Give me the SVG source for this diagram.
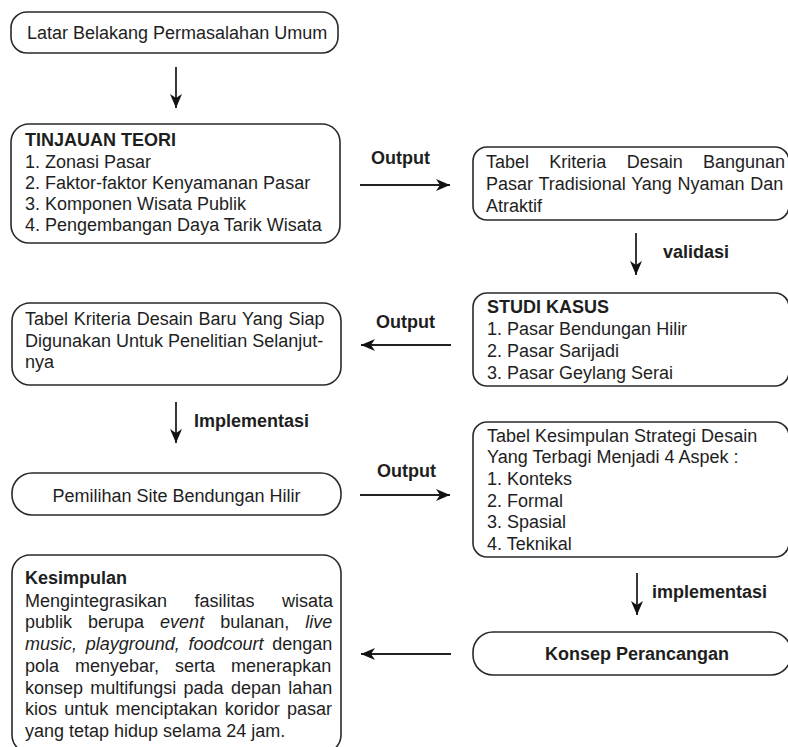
<svg xmlns="http://www.w3.org/2000/svg" width="788" height="747" viewBox="0 0 788 747">
<style>
.box{fill:#fff;stroke:#2a2a2a;stroke-width:1.6}
.t{font-family:"Liberation Sans",Arial,sans-serif;font-size:18px;fill:#1e1e1e}
.b{font-weight:bold}
.i{font-style:italic}
.c{stroke:#222;stroke-width:1.8;fill:none;marker-end:url(#ah)}
</style>
<defs>
<marker id="ah" viewBox="0 0 14 12" refX="14" refY="6" markerWidth="14" markerHeight="12" markerUnits="userSpaceOnUse" orient="auto">
<path d="M0,0 L14,6 L0,12 L4,6 z" fill="#111"/>
</marker>
</defs>
<rect width="788" height="747" fill="#fff"/>
<g id="connectors">
<line class="c" x1="176" y1="67" x2="176" y2="108"/>
<line class="c" x1="360" y1="185" x2="450" y2="185"/>
<line class="c" x1="636" y1="233" x2="636" y2="275"/>
<line class="c" x1="451" y1="345" x2="361" y2="345"/>
<line class="c" x1="176" y1="402" x2="176" y2="443"/>
<line class="c" x1="360" y1="495" x2="450" y2="495"/>
<line class="c" x1="637" y1="573" x2="637" y2="615"/>
<line class="c" x1="451" y1="654" x2="361" y2="654"/>
<text class="t b" x="371" y="164">Output</text>
<text class="t b" x="663" y="258">validasi</text>
<text class="t b" x="376" y="328">Output</text>
<text class="t b" x="194" y="427">Implementasi</text>
<text class="t b" x="377" y="477">Output</text>
<text class="t b" x="652" y="598">implementasi</text>
</g>
<g id="latar">
<rect class="box" x="11" y="12" width="327" height="41" rx="16"/>
<text class="t" x="27" y="38.5">Latar Belakang Permasalahan Umum</text>
</g>
<g id="tinjauan">
<rect class="box" x="11" y="124" width="329" height="119" rx="18"/>
<text class="t b" x="25" y="146">TINJAUAN TEORI</text>
<text class="t" x="25" y="168">1. Zonasi Pasar</text>
<text class="t" x="25" y="189">2. Faktor-faktor Kenyamanan Pasar</text>
<text class="t" x="25" y="210">3. Komponen Wisata Publik</text>
<text class="t" x="25" y="231">4. Pengembangan Daya Tarik Wisata</text>
</g>
<g id="tabel-kriteria">
<rect class="box" x="473" y="147" width="316" height="73" rx="14"/>
<text class="t" x="486" y="168" word-spacing="15.3">Tabel Kriteria Desain Bangunan</text>
<text class="t" x="486" y="190" word-spacing="0.7">Pasar Tradisional Yang Nyaman Dan</text>
<text class="t" x="486" y="212">Atraktif</text>
</g>
<g id="studi-kasus">
<rect class="box" x="473" y="293" width="316" height="93" rx="14"/>
<text class="t b" x="487" y="313">STUDI KASUS</text>
<text class="t" x="487" y="335">1. Pasar Bendungan Hilir</text>
<text class="t" x="487" y="357">2. Pasar Sarijadi</text>
<text class="t" x="487" y="378.5">3. Pasar Geylang Serai</text>
</g>
<g id="tabel-baru">
<rect class="box" x="12" y="303" width="329" height="82" rx="18"/>
<text class="t" x="25" y="325" word-spacing="0.8">Tabel Kriteria Desain Baru Yang Siap</text>
<text class="t" x="25" y="346.5">Digunakan Untuk Penelitian Selanjut-</text>
<text class="t" x="25" y="367.5">nya</text>
</g>
<g id="pemilihan">
<rect class="box" x="12" y="473" width="329" height="42" rx="20"/>
<text class="t" x="176.5" y="502" text-anchor="middle">Pemilihan Site Bendungan Hilir</text>
</g>
<g id="tabel-kesimpulan">
<rect class="box" x="473" y="422" width="316" height="135" rx="14"/>
<text class="t" x="487" y="441.5">Tabel Kesimpulan Strategi Desain</text>
<text class="t" x="487" y="463">Yang Terbagi Menjadi 4 Aspek :</text>
<text class="t" x="487" y="485">1. Konteks</text>
<text class="t" x="487" y="506.5">2. Formal</text>
<text class="t" x="487" y="528">3. Spasial</text>
<text class="t" x="487" y="550">4. Teknikal</text>
</g>
<g id="konsep">
<rect class="box" x="473" y="632" width="318" height="43" rx="20"/>
<text class="t b" x="637" y="660" text-anchor="middle">Konsep Perancangan</text>
</g>
<g id="kesimpulan">
<rect class="box" x="12" y="555" width="329" height="198" rx="18"/>
<text class="t b" x="25" y="584">Kesimpulan</text>
<text class="t" x="25" y="606.5" word-spacing="22.4">Mengintegrasikan fasilitas wisata</text>
<text class="t" x="25" y="628.3" word-spacing="11">publik berupa <tspan class="i">event</tspan> bulanan, <tspan class="i">live</tspan></text>
<text class="t" x="25" y="650" word-spacing="3.7"><tspan class="i">music, playground, foodcourt</tspan> dengan</text>
<text class="t" x="25" y="671.8" word-spacing="11">pola menyebar, serta menerapkan</text>
<text class="t" x="25" y="693.6" word-spacing="2.25">konsep multifungsi pada depan lahan</text>
<text class="t" x="25" y="715.4" word-spacing="2.2">kios untuk menciptakan koridor pasar</text>
<text class="t" x="25" y="737.2">yang tetap hidup selama 24 jam.</text>
</g>
</svg>
